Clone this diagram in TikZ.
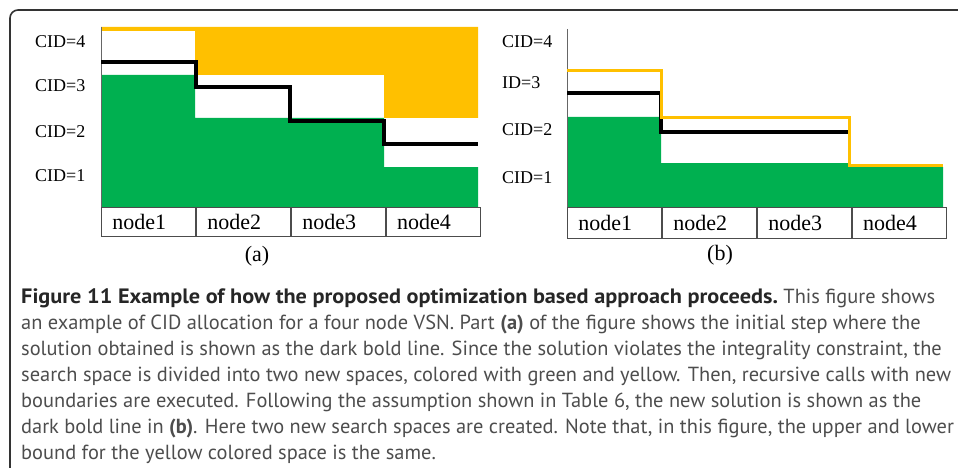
\documentclass[tikz,border=0pt]{standalone}
\usepackage{fontspec}
\setmainfont{Liberation Serif}
\newfontfamily\capfont{PT Sans}
\definecolor{cidgreen}{HTML}{00B050}
\definecolor{cidgold}{HTML}{FFC000}
\definecolor{capgray}{HTML}{4D4D4D}
\newcommand{\figtitle}[1]{\scalebox{1.07}[1]{\fontsize{20.8}{26}\selectfont\bfseries\color{black!85}#1}}
\tikzset{
  cell/.style={draw=black!70, line width=0.9pt, minimum width=94pt, minimum height=29pt,
    inner ysep=0pt, inner xsep=11pt, text width=72pt, align=left, font=\fontsize{22}{22}\selectfont},
  cid/.style={inner sep=0pt, font=\fontsize{18}{18}\selectfont},
  sol/.style={line width=3.5pt},
  bound/.style={cidgold, line width=3pt},
}
\begin{document}
\begin{tikzpicture}[x=1pt,y=-1pt]
\useasboundingbox (0,0) rectangle (958,468);
% frame
\draw[black!80, line width=1.6pt] (962,10) -- (18,10) arc (270:180:8) -- (10,472);

% ---- part (a)
\fill[cidgold] (101,27) -- (478,27) -- (478,118) -- (384,118) -- (384,75) -- (195,75) -- (195,31) -- (101,31) -- cycle;
\fill[cidgreen] (101,75) -- (195,75) -- (195,118) -- (384,118) -- (384,167) -- (478,167) -- (478,207) -- (101,207) -- cycle;
\draw[black!60, line width=0.8pt] (101,27) -- (101,207);
\draw[sol] (101,62) -- (196,62) -- (196,87) -- (290,87) -- (290,121) -- (384,121) -- (384,144) -- (478,144);

\node[cid, anchor=west] (a4) at (35,42) {CID=4};
\node[cid, anchor=west] (a3) at (35,86) {CID=3};
\node[cid, anchor=west] (a2) at (35,132) {CID=2};
\node[cid, anchor=west] (a1) at (35,176) {CID=1};

\node[cell, anchor=north west] (an1) at (101,207) {node1};
\node[cell, anchor=west] (an2) at (an1.east) {node2};
\node[cell, anchor=west] (an3) at (an2.east) {node3};
\node[cell, anchor=west] (an4) at (an3.east) {node4};
\node[font=\fontsize{22}{22}\selectfont] (pa) at (257,256) {(a)};

% ---- part (b)
\fill[cidgreen] (567,117) -- (661,117) -- (661,163) -- (849,163) -- (849,167) -- (943,167) -- (943,207) -- (567,207) -- cycle;
\draw[black!60, line width=0.8pt] (567,29) -- (567,207);
\draw[sol] (567,93) -- (661,93) -- (661,132) -- (850,132);
\draw[bound] (567,71) -- (661,71) -- (661,118) -- (849,118) -- (849,165) -- (943,165);

\node[cid, anchor=west] (b4) at (502,42) {CID=4};
\node[cid, anchor=west] (b3) at (502,83) {ID=3};
\node[cid, anchor=west] (b2) at (502,130) {CID=2};
\node[cid, anchor=west] (b1) at (502,178) {CID=1};

\node[cell, anchor=north west, minimum height=31pt] (bn1) at (567,207) {node1};
\node[cell, anchor=west, minimum height=31pt] (bn2) at (bn1.east) {node2};
\node[cell, anchor=west, minimum height=31pt] (bn3) at (bn2.east) {node3};
\node[cell, anchor=west, minimum height=31pt] (bn4) at (bn3.east) {node4};
\node[font=\fontsize{22}{22}\selectfont] (pb) at (720,255) {(b)};

% ---- caption
\node[anchor=north west, inner sep=0pt, align=left, text=capgray,
  font=\capfont\fontsize{20.4}{26}\selectfont] (cap) at (21,288.5)
{\figtitle{Figure 11 Example of how the proposed optimization based approach proceeds.} This figure shows\\
an example of CID allocation for a four node VSN. Part \textbf{(a)} of the figure shows the initial step where the\\
solution obtained is shown as the dark bold line. Since the solution violates the integrality constraint, the\\
search space is divided into two new spaces, colored with green and yellow. Then, recursive calls with new\\
boundaries are executed. Following the assumption shown in Table 6, the new solution is shown as the\\
dark bold line in \textbf{(b)}. Here two new search spaces are created. Note that, in this figure, the upper and lower\\
bound for the yellow colored space is the same.};
\end{tikzpicture}
\end{document}
